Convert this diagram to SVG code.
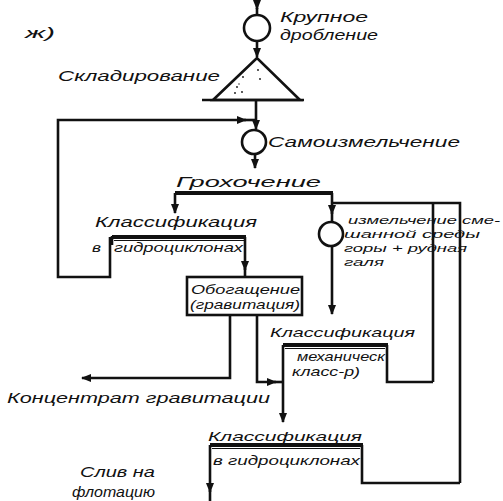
<svg xmlns="http://www.w3.org/2000/svg" width="503" height="501" viewBox="0 0 503 501">
<defs>
<marker id="ah" viewBox="0 0 10 10" refX="9" refY="5" markerWidth="4" markerHeight="4" orient="auto" markerUnits="strokeWidth">
<path d="M0,1 L10,5 L0,9 Z" fill="#111"/>
</marker>
<style>
.t{font-family:"Liberation Sans","DejaVu Sans",sans-serif;font-style:italic;font-size:15px;fill:#111}
.s{font-size:13px}
.xs{font-size:11.5px}
.l{fill:none;stroke:#111;stroke-width:2.6;stroke-linejoin:miter}
.a{marker-end:url(#ah)}
.k{fill:none;stroke:#111;stroke-width:4}
.th{fill:none;stroke:#111;stroke-width:1}
.c{fill:#fff;stroke:#111;stroke-width:2.6}
</style>
</defs>
<rect width="503" height="501" fill="#fff"/>

<g id="connectors">
<path class="l a" d="M257,0 V9"/>
<path class="l" d="M257,8 V15"/>
<path class="l a" d="M257,41 V57"/>
<path class="l a" d="M256,100 V129"/>
<path class="l a" d="M110,237 V277 H58 V120 H246"/>
<path class="l" d="M244,120 H256"/>
<path class="l a" d="M255,154 V168"/>
<path class="k" d="M175,193 H333"/>
<path class="l a" d="M175,193 V213"/>
<path class="l a" d="M332,193 V214"/>
<path class="l" d="M332,212 V222"/>
<path class="l" d="M332,203 H460 V483"/>
<path class="l" d="M433,203 V382"/>
<path class="l a" d="M332,246 V314"/>
<path class="l a" d="M245,237 V270"/>
<path class="l" d="M245,268 V277"/>
<path class="l a" d="M230,315 V378 H82"/>
<path class="l a" d="M257,315 V382 H276"/>
<path class="l" d="M274,382 H283"/>
<path class="l a" d="M283,345 V422"/>
<path class="l" d="M387,345 V382 H433"/>
<path class="l" d="M362,445 V483 H460"/>
<path class="l a" d="M210,445 V492"/>
<path class="l" d="M210,490 V501"/>
</g>

<g id="label-zh"><text class="t" x="25" y="38" textLength="30" lengthAdjust="spacingAndGlyphs">ж)</text></g>

<g id="node-krupnoe">
<circle class="c" cx="257" cy="28" r="13"/>
<text class="t" x="280" y="22" textLength="88" lengthAdjust="spacingAndGlyphs">Крупное</text>
<text class="t" x="280" y="40" textLength="98" lengthAdjust="spacingAndGlyphs">дробление</text>
</g>

<g id="node-skladirovanie">
<path class="l" d="M202,100 H304"/>
<path class="l" d="M257,58 L213,100 H300 Z"/>
<g fill="#111">
<circle cx="258" cy="70" r="0.9"/><circle cx="260" cy="79" r="0.9"/><circle cx="243" cy="77" r="0.9"/>
<circle cx="237" cy="87" r="0.9"/><circle cx="242" cy="92" r="0.9"/><circle cx="235" cy="93" r="0.9"/>
<circle cx="239" cy="84" r="0.7"/>
</g>
<text class="t" x="58" y="81" textLength="162" lengthAdjust="spacingAndGlyphs">Складирование</text>
</g>

<g id="node-samoizmelchenie">
<circle class="c" cx="254" cy="142" r="12"/>
<text class="t" x="268" y="147" textLength="192" lengthAdjust="spacingAndGlyphs">Самоизмельчение</text>
</g>

<g id="node-grohochenie">
<text class="t" x="176" y="187" textLength="145" lengthAdjust="spacingAndGlyphs">Грохочение</text>
</g>

<g id="node-klass1">
<text class="t" x="95" y="227" textLength="162" lengthAdjust="spacingAndGlyphs">Классификация</text>
<path class="k" d="M112,237 H246"/>
<path class="th" d="M114,240.5 H244"/>
<path class="l" d="M112,236 V245"/>
<text class="t s" x="92" y="252" textLength="9" lengthAdjust="spacingAndGlyphs">в</text>
<text class="t s" x="114" y="252" textLength="129" lengthAdjust="spacingAndGlyphs">гидроциклонах</text>
</g>

<g id="node-izmelchenie">
<circle class="c" cx="331" cy="234" r="12"/>
<text class="t xs" x="348" y="224" textLength="152" lengthAdjust="spacingAndGlyphs">измельчение сме-</text>
<text class="t xs" x="344" y="238" textLength="136" lengthAdjust="spacingAndGlyphs">шанной среды</text>
<text class="t xs" x="344" y="252" textLength="123" lengthAdjust="spacingAndGlyphs">горы + рудная</text>
<text class="t xs" x="344" y="266" textLength="40" lengthAdjust="spacingAndGlyphs">галя</text>
</g>

<g id="node-obogashchenie">
<rect x="187" y="277" width="115" height="38" fill="#fff" stroke="#111" stroke-width="2.6"/>
<text class="t s" x="191" y="294" textLength="109" lengthAdjust="spacingAndGlyphs">Обогащение</text>
<text class="t s" x="190" y="309" textLength="110" lengthAdjust="spacingAndGlyphs">(гравитация)</text>
</g>

<g id="node-klass2">
<text class="t s" x="270" y="337" textLength="145" lengthAdjust="spacingAndGlyphs">Классификация</text>
<path class="k" d="M283,345 H388"/>
<path class="th" d="M285,348.5 H385"/>
<text class="t s" x="297" y="361" textLength="88" lengthAdjust="spacingAndGlyphs">механическ</text>
<text class="t s" x="292" y="376" textLength="68" lengthAdjust="spacingAndGlyphs">класс-р)</text>
</g>

<g id="node-koncentrat">
<text class="t" x="7" y="403" textLength="263" lengthAdjust="spacingAndGlyphs">Концентрат гравитации</text>
</g>

<g id="node-klass3">
<text class="t s" x="208" y="441" textLength="154" lengthAdjust="spacingAndGlyphs">Классификация</text>
<path class="k" d="M210,445 H363"/>
<path class="th" d="M212,448.5 H360"/>
<text class="t s" x="213" y="465" textLength="147" lengthAdjust="spacingAndGlyphs">в гидроциклонах</text>
</g>

<g id="node-sliv">
<text class="t" x="80" y="477" textLength="75" lengthAdjust="spacingAndGlyphs">Слив на</text>
<text class="t" x="72" y="497" textLength="83" lengthAdjust="spacingAndGlyphs">флотацию</text>
</g>
</svg>
